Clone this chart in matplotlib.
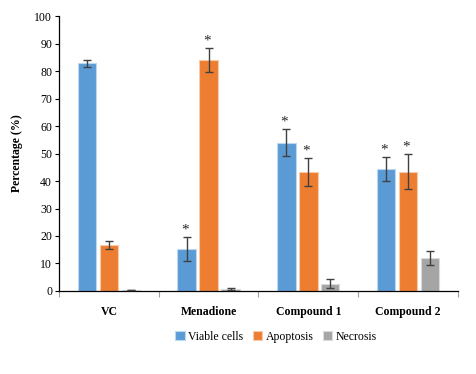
import matplotlib
matplotlib.use("Agg")
import matplotlib.pyplot as plt
import numpy as np

categories = ["VC", "Menadione", "Compound 1", "Compound 2"]
series = ["Viable cells", "Apoptosis", "Necrosis"]
viable = [82.8, 15.2, 53.9, 44.3]
viable_err = [1.3, 4.3, 4.9, 4.3]
apoptosis = [16.6, 83.9, 43.2, 43.4]
apoptosis_err = [1.5, 4.4, 5.0, 6.4]
necrosis = [0.4, 0.7, 2.6, 12.0]
necrosis_err = [0.1, 0.4, 1.6, 2.4]
viable_star = [False, True, True, True]
apoptosis_star = [False, True, True, True]
necrosis_star = [False, False, False, False]
yticks = [0, 10, 20, 30, 40, 50, 60, 70, 80, 90, 100]

colors = ["#5B9BD5", "#ED7D31", "#A5A5A5"]
edge = ["#BDD7EE", "#F8CBAD", "#DBDBDB"]

plt.rcParams['font.family'] = ['Liberation Serif', 'DejaVu Serif']
fig = plt.figure(figsize=(4.76, 3.74), dpi=100)
ax = fig.add_axes([0.124, 0.222, 0.838, 0.735])

x = np.arange(len(categories))
step = 0.22
width = 0.185
data = [(viable, viable_err, viable_star), (apoptosis, apoptosis_err, apoptosis_star),
        (necrosis, necrosis_err, necrosis_star)]
handles = []
for i, (vals, errs, stars) in enumerate(data):
    pos = x + (i - 1) * step
    b = ax.bar(pos, vals, width, color=colors[i], edgecolor=edge[i], linewidth=0.8,
               label=series[i], zorder=2)
    handles.append(b)
    ax.errorbar(pos, vals, yerr=errs, fmt='none', ecolor="#404040", elinewidth=1.0,
                capsize=3, capthick=1.0, zorder=3)
    for p, v, e, s in zip(pos, vals, errs, stars):
        if s:
            ax.text(p - 0.02, v + e + 0.3, "*", ha='center', va='bottom', fontsize=11,
                    color="#262626", zorder=4)

ax.set_xlim(-0.5, 3.5)
ax.set_ylim(0, 100)
ax.set_yticks(yticks)
ax.tick_params(axis='y', labelsize=8.5, length=3, width=0.8, direction='out', pad=2)
ax.set_xticks(x)
ax.set_xticklabels(categories, fontweight='bold', fontsize=8.5)
ax.tick_params(axis='x', length=0, pad=11)
ax.set_xticks(np.arange(-0.5, 4.0, 1.0), minor=True)
ax.tick_params(axis='x', which='minor', length=4, width=0.8, color="#A0A0A0", direction='out')
for s in ['top', 'right']:
    ax.spines[s].set_visible(False)
ax.spines['left'].set_linewidth(0.9)
ax.spines['bottom'].set_linewidth(0.9)
ax.set_ylabel("Percentage (%)", fontweight='bold', fontsize=8.5, labelpad=8)

fig.legend(handles=handles, labels=series, loc='center', bbox_to_anchor=(0.58, 0.099),
           ncol=3, frameon=False, fontsize=8.5, handlelength=0.8, handleheight=0.8,
           handletextpad=0.3, columnspacing=0.8)

fig.savefig("out.png", dpi=100)
